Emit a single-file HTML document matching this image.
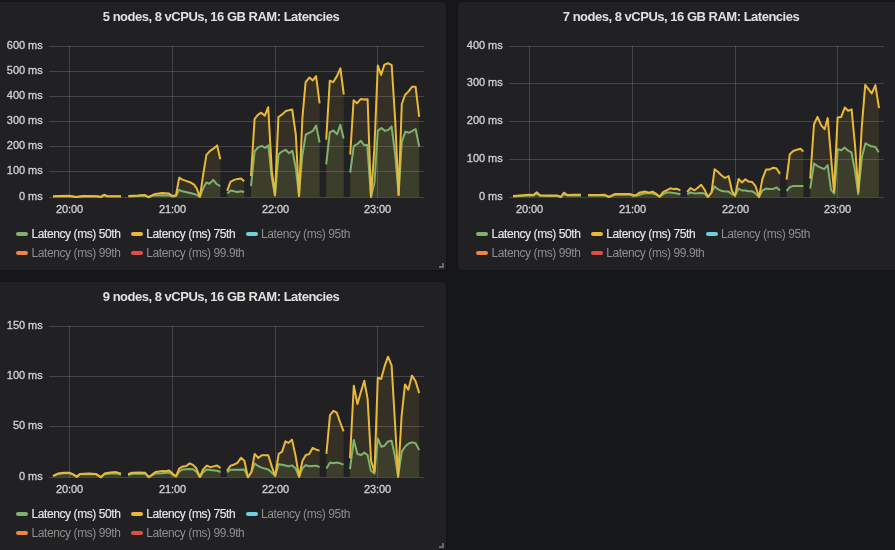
<!DOCTYPE html>
<html lang="en"><head><meta charset="utf-8"><title>Latencies dashboard</title>
<style>
html,body{margin:0;padding:0;background:#161719;}
body{width:895px;height:550px;overflow:hidden;position:relative;font-family:"Liberation Sans",Arial,sans-serif;color:#d8d9da;}
.panel{position:absolute;width:448px;height:268px;background:#212124;border-radius:2.5px;box-shadow:0 0 0 1px #131314;overflow:hidden;}
.panel svg{position:absolute;left:0;top:0;}
.title{position:absolute;left:0;top:5.5px;width:446px;text-align:center;font-size:13px;line-height:18px;font-weight:bold;color:#e0e0e1;letter-spacing:-0.49px;white-space:nowrap;}
.yl{position:absolute;left:0;width:44.6px;text-align:right;font-size:11px;line-height:12px;color:#d0d1d2;white-space:nowrap;-webkit-text-stroke:0.3px #d0d1d2;letter-spacing:-0.05px;}
.xl{position:absolute;width:60px;text-align:center;font-size:11px;line-height:12px;top:201px;color:#d0d1d2;white-space:nowrap;-webkit-text-stroke:0.3px #d0d1d2;letter-spacing:-0.1px;}
.lg{position:absolute;font-size:12px;line-height:14px;white-space:nowrap;color:#e6e6e7;letter-spacing:-0.42px;-webkit-text-stroke:0.15px #e6e6e7;}
.lg.off{color:#8e8e8e;-webkit-text-stroke:0;}
.ic{position:absolute;width:12px;height:4px;border-radius:2px;}
.handle{position:absolute;left:441px;top:261px;width:3px;height:3px;border-right:2px solid #6a6a6a;border-bottom:2px solid #6a6a6a;}
</style></head><body>

<div class="panel" style="left:-2px;top:2px">
<svg width="448" height="268" viewBox="0 0 448 268">
<path d="M51 44.5 H426 M51 69.5 H426 M51 94.5 H426 M51 119.5 H426 M51 144.5 H426 M51 169.5 H426 M51 195.5 H426" stroke="#fff" stroke-opacity="0.16" stroke-width="1" fill="none"/>
<path d="M71.5 44 V196 M174.5 44 V196 M277.5 44 V196 M379.5 44 V196" stroke="#fff" stroke-opacity="0.16" stroke-width="1" fill="none"/>
<path d="M55 194.6 L62 194.4 L71 194.2 L78 195 L85 194.4 L99 194.6 L103 195 L106 193.4 L109 194.4 L123 194.6 L123 195 L55 195 Z M130.4 194.4 L147 193.6 L150.4 195.2 L156 193.4 L164 193.2 L171 193.4 L174.5 194.6 L178 194 L181.2 187.8 L184.4 189.3 L188.8 190.3 L193.2 191.3 L196.1 192 L198.7 192.9 L201.9 194.8 L205.1 186.3 L208.4 180.5 L211.4 181.7 L215.3 177.9 L218.6 182 L222.3 184.2 L222.3 195 L130.4 195 Z M229.2 191.4 L232.7 188.5 L236.1 189.3 L239.7 190 L243 189.3 L246.2 190 L246.2 195 L229.2 195 Z M253 184.2 L256.6 149.3 L260.3 145.3 L263.6 143.9 L267.2 145.9 L270.4 143.4 L273.6 174.7 L277 193.6 L280.6 152.2 L284.3 149.3 L287.6 147.8 L291.1 151.2 L294.4 148.8 L297.8 166 L301 193.6 L304.2 154.4 L307.8 132.5 L311.2 130.8 L314.8 128.9 L318.1 123.5 L321.6 140.5 L321.6 195 L253 195 Z M328.2 162.4 L331.8 130.4 L335.4 128.5 L339.1 132.3 L342.3 122.7 L345.6 136.6 L345.6 195 L328.2 195 Z M352.2 170.6 L355.8 144.2 L359.4 142 L362.8 138.8 L366.3 143.4 L369.2 142.7 L373 195 L376.5 180.5 L379.8 128.9 L383.4 126 L387.1 128.9 L390.4 127.9 L393.6 124.5 L397.2 152.9 L400.6 192.9 L403.8 139.8 L407.4 129.6 L410.8 130.8 L414.3 128.9 L417.6 127 L421.2 144.6 L421.2 195 L352.2 195 Z" fill="#7eb26d" fill-opacity="0.1" stroke="none"/>
<path d="M55 194.3 L62 194 L71 193.8 L78 194.9 L85 194 L99 194.2 L103 194.9 L106 192.7 L109 194 L123 194.2 L123 195 L55 195 Z M130.4 194 L140 193.6 L147 193 L150.4 195.2 L156 192.3 L164 191.1 L171 191.6 L174.5 194 L178 193.2 L181.2 175.7 L184.4 177.6 L188.8 179.1 L193.2 180.8 L196.1 182.7 L198.7 186.3 L201.9 194.8 L205.1 173.3 L208.4 152.9 L212.1 148.8 L215.7 146.4 L219.1 143.4 L222.3 157.3 L222.3 195 L130.4 195 Z M229.2 188.8 L232.4 179.8 L236.1 177.9 L239.7 176.9 L243 176.5 L246.2 179.1 L246.2 195 L229.2 195 Z M253 174 L256.6 117 L259.8 112.9 L263.2 110.7 L266.8 113.6 L270.2 105.2 L273.8 168.9 L277 193 L280.4 115 L283.5 112.9 L287.9 109 L291.5 108.1 L294.2 107.5 L297.8 132.5 L301 194.3 L304.4 116 L307.6 80.2 L311.5 75.5 L314.8 78.4 L318.1 74.1 L321.6 101.3 L321.6 195 L253 195 Z M328.2 137.6 L331.8 78.7 L335.2 80.2 L338.8 74.4 L342.4 66.4 L345.8 92.5 L345.8 195 L328.2 195 Z M352.2 152.5 L355.6 98.3 L359 101.3 L362.8 96.9 L366 97.6 L369.6 97.2 L373 195 L376.4 146 L379.8 63.4 L383.1 72.9 L386.4 62.6 L390 61.2 L393.7 63.2 L397.3 120 L400.6 192.9 L403.8 102 L407 93 L410.3 89.6 L414 84.8 L417.6 84.8 L421.2 114.8 L421.2 195 L352.2 195 Z" fill="#eab839" fill-opacity="0.1" stroke="none"/>
<path d="M55 194.6 L62 194.4 L71 194.2 L78 195 L85 194.4 L99 194.6 L103 195 L106 193.4 L109 194.4 L123 194.6 M130.4 194.4 L147 193.6 L150.4 195.2 L156 193.4 L164 193.2 L171 193.4 L174.5 194.6 L178 194 L181.2 187.8 L184.4 189.3 L188.8 190.3 L193.2 191.3 L196.1 192 L198.7 192.9 L201.9 194.8 L205.1 186.3 L208.4 180.5 L211.4 181.7 L215.3 177.9 L218.6 182 L222.3 184.2 M229.2 191.4 L232.7 188.5 L236.1 189.3 L239.7 190 L243 189.3 L246.2 190 M253 184.2 L256.6 149.3 L260.3 145.3 L263.6 143.9 L267.2 145.9 L270.4 143.4 L273.6 174.7 L277 193.6 L280.6 152.2 L284.3 149.3 L287.6 147.8 L291.1 151.2 L294.4 148.8 L297.8 166 L301 193.6 L304.2 154.4 L307.8 132.5 L311.2 130.8 L314.8 128.9 L318.1 123.5 L321.6 140.5 M328.2 162.4 L331.8 130.4 L335.4 128.5 L339.1 132.3 L342.3 122.7 L345.6 136.6 M352.2 170.6 L355.8 144.2 L359.4 142 L362.8 138.8 L366.3 143.4 L369.2 142.7 L373 195 L376.5 180.5 L379.8 128.9 L383.4 126 L387.1 128.9 L390.4 127.9 L393.6 124.5 L397.2 152.9 L400.6 192.9 L403.8 139.8 L407.4 129.6 L410.8 130.8 L414.3 128.9 L417.6 127 L421.2 144.6" fill="none" stroke="#7eb26d" stroke-width="2" stroke-linejoin="round" stroke-linecap="butt"/>
<path d="M55 194.3 L62 194 L71 193.8 L78 194.9 L85 194 L99 194.2 L103 194.9 L106 192.7 L109 194 L123 194.2 M130.4 194 L140 193.6 L147 193 L150.4 195.2 L156 192.3 L164 191.1 L171 191.6 L174.5 194 L178 193.2 L181.2 175.7 L184.4 177.6 L188.8 179.1 L193.2 180.8 L196.1 182.7 L198.7 186.3 L201.9 194.8 L205.1 173.3 L208.4 152.9 L212.1 148.8 L215.7 146.4 L219.1 143.4 L222.3 157.3 M229.2 188.8 L232.4 179.8 L236.1 177.9 L239.7 176.9 L243 176.5 L246.2 179.1 M253 174 L256.6 117 L259.8 112.9 L263.2 110.7 L266.8 113.6 L270.2 105.2 L273.8 168.9 L277 193 L280.4 115 L283.5 112.9 L287.9 109 L291.5 108.1 L294.2 107.5 L297.8 132.5 L301 194.3 L304.4 116 L307.6 80.2 L311.5 75.5 L314.8 78.4 L318.1 74.1 L321.6 101.3 M328.2 137.6 L331.8 78.7 L335.2 80.2 L338.8 74.4 L342.4 66.4 L345.8 92.5 M352.2 152.5 L355.6 98.3 L359 101.3 L362.8 96.9 L366 97.6 L369.6 97.2 L373 195 L376.4 146 L379.8 63.4 L383.1 72.9 L386.4 62.6 L390 61.2 L393.7 63.2 L397.3 120 L400.6 192.9 L403.8 102 L407 93 L410.3 89.6 L414 84.8 L417.6 84.8 L421.2 114.8" fill="none" stroke="#eab839" stroke-width="2" stroke-linejoin="round" stroke-linecap="butt"/>
</svg>
<div class="title">5 nodes, 8 vCPUs, 16 GB RAM: Latencies</div>
<div class="yl" style="top:37.4px">600 ms</div>
<div class="yl" style="top:62.4px">500 ms</div>
<div class="yl" style="top:87.4px">400 ms</div>
<div class="yl" style="top:112.4px">300 ms</div>
<div class="yl" style="top:137.4px">200 ms</div>
<div class="yl" style="top:162.4px">100 ms</div>
<div class="yl" style="top:188.4px">0 ms</div>
<div class="xl" style="left:41.5px">20:00</div>
<div class="xl" style="left:144.5px">21:00</div>
<div class="xl" style="left:247.5px">22:00</div>
<div class="xl" style="left:349.5px">23:00</div>
<div class="ic" style="left:18px;top:230.3px;background:#7eb26d"></div>
<div class="lg" style="left:33.6px;top:224.8px">Latency (ms) 50th</div>
<div class="ic" style="left:132.7px;top:230.3px;background:#eab839"></div>
<div class="lg" style="left:148.3px;top:224.8px">Latency (ms) 75th</div>
<div class="ic" style="left:247.5px;top:230.3px;background:#6ed0e0"></div>
<div class="lg off" style="left:263.1px;top:224.8px">Latency (ms) 95th</div>
<div class="ic" style="left:18px;top:249.2px;background:#ef843c"></div>
<div class="lg off" style="left:33.6px;top:243.7px">Latency (ms) 99th</div>
<div class="ic" style="left:132.7px;top:249.2px;background:#e24d42"></div>
<div class="lg off" style="left:148.3px;top:243.7px">Latency (ms) 99.9th</div>
<div class="handle"></div>
</div>
<div class="panel" style="left:458px;top:2px">
<svg width="448" height="268" viewBox="0 0 448 268">
<path d="M51 44.5 H426 M51 81.5 H426 M51 119.5 H426 M51 157.5 H426 M51 195.5 H426" stroke="#fff" stroke-opacity="0.16" stroke-width="1" fill="none"/>
<path d="M71.5 44 V196 M174.5 44 V196 M277.5 44 V196 M379.5 44 V196" stroke="#fff" stroke-opacity="0.16" stroke-width="1" fill="none"/>
<path d="M55 194.5 L62 194 L71 193.4 L75.3 193.6 L78.7 191.5 L82 193.8 L92 194 L99.5 194 L102.9 195 L105.8 192 L109.5 193.6 L116 193.4 L123 193.4 L123 195 L55 195 Z M130.1 193.5 L147 193.3 L150.8 195 L157.1 192.8 L172 192.8 L175.5 193.8 L178 193.8 L181 193 L186.7 191.3 L194 191.3 L198 192.5 L201.8 194.8 L205.1 192.2 L209 190.5 L212 190.4 L219 191.5 L222.4 192.3 L222.4 195 L130.1 195 Z M229.2 192.2 L232.6 190.5 L236.5 191.4 L243.2 191.1 L246.6 191.6 L249.9 195 L253.5 190.5 L256.6 184.4 L259.9 187.2 L263.3 188.8 L267 189.6 L270.6 189.6 L273.9 192.2 L277.1 193.6 L280.6 186.6 L284 188.5 L287.3 188.5 L290.7 189.2 L294 189.2 L297.4 191.4 L301 195 L304.4 188.5 L308 186.6 L311.4 186.9 L315.3 186.9 L318.6 185.5 L322 188.5 L322 195 L229.2 195 Z M328.6 189 L331.8 185.2 L335.2 183.9 L345.4 183.9 L345.4 195 L328.6 195 Z M352.2 186.7 L356 161.6 L359.9 164.3 L366.2 167.2 L369.7 163.1 L373 187.8 L376.3 191.5 L379.8 147.1 L383.2 148.3 L386.5 145.6 L389.7 148.3 L393.4 150.3 L397 168.9 L400.2 192.2 L404 154.4 L407.5 141.3 L412.3 143.9 L417.4 144.9 L420.7 150.3 L420.7 195 L352.2 195 Z" fill="#7eb26d" fill-opacity="0.1" stroke="none"/>
<path d="M55 194 L62 193.4 L71 192.8 L75.3 193 L78.7 190.2 L82 193.3 L92 193.5 L99.5 193.6 L102.9 195 L105.8 190.7 L109.5 193 L116 192.8 L123 192.8 L123 195 L55 195 Z M130.1 193 L140 193 L147 192.8 L150.8 194.9 L157.1 191.9 L164 191.9 L172 191.9 L175.5 193.3 L178 193.2 L181.1 190.8 L186.7 189.5 L191.2 190.7 L194.5 189.6 L197.9 191.6 L201.8 194.7 L205.1 190.2 L209 188.2 L212.4 186.3 L215.7 187.1 L219.1 186.8 L222.4 188.4 L222.4 195 L130.1 195 Z M229.2 190 L232.6 186 L236.5 188.3 L239.8 185.8 L243.2 182.7 L246.6 187.7 L249.9 195 L253.5 190.5 L256.6 167.3 L259.9 169.8 L263.3 173.2 L267 176 L270.6 174 L273.9 188.8 L277.1 193.6 L280.6 176.9 L284 180.5 L287.3 177.3 L290.7 179.6 L294 179.9 L297.4 183.8 L301 195 L304.4 177.1 L308 167.6 L311.4 167.6 L315.3 165.7 L318.6 166.5 L322 171.9 L322 195 L229.2 195 Z M328.6 177.6 L331.8 152.2 L335.2 149 L338.8 147.8 L342.5 146.8 L345.4 149.6 L345.4 195 L328.6 195 Z M352.2 176.6 L356 122.3 L359.5 114.9 L363.3 123.4 L366.6 127.2 L369.7 116.1 L373 155 L376 189.3 L379.6 115.6 L383.2 114.9 L386.8 105.5 L390.2 108.8 L393.6 107.3 L397 143 L400.3 190 L403.7 126 L407.2 82.8 L410.5 87.2 L413.7 91.5 L417.4 83.1 L421 106.2 L421 195 L352.2 195 Z" fill="#eab839" fill-opacity="0.1" stroke="none"/>
<path d="M55 194.5 L62 194 L71 193.4 L75.3 193.6 L78.7 191.5 L82 193.8 L92 194 L99.5 194 L102.9 195 L105.8 192 L109.5 193.6 L116 193.4 L123 193.4 M130.1 193.5 L147 193.3 L150.8 195 L157.1 192.8 L172 192.8 L175.5 193.8 L178 193.8 L181 193 L186.7 191.3 L194 191.3 L198 192.5 L201.8 194.8 L205.1 192.2 L209 190.5 L212 190.4 L219 191.5 L222.4 192.3 M229.2 192.2 L232.6 190.5 L236.5 191.4 L243.2 191.1 L246.6 191.6 L249.9 195 L253.5 190.5 L256.6 184.4 L259.9 187.2 L263.3 188.8 L267 189.6 L270.6 189.6 L273.9 192.2 L277.1 193.6 L280.6 186.6 L284 188.5 L287.3 188.5 L290.7 189.2 L294 189.2 L297.4 191.4 L301 195 L304.4 188.5 L308 186.6 L311.4 186.9 L315.3 186.9 L318.6 185.5 L322 188.5 M328.6 189 L331.8 185.2 L335.2 183.9 L345.4 183.9 M352.2 186.7 L356 161.6 L359.9 164.3 L366.2 167.2 L369.7 163.1 L373 187.8 L376.3 191.5 L379.8 147.1 L383.2 148.3 L386.5 145.6 L389.7 148.3 L393.4 150.3 L397 168.9 L400.2 192.2 L404 154.4 L407.5 141.3 L412.3 143.9 L417.4 144.9 L420.7 150.3" fill="none" stroke="#7eb26d" stroke-width="2" stroke-linejoin="round" stroke-linecap="butt"/>
<path d="M55 194 L62 193.4 L71 192.8 L75.3 193 L78.7 190.2 L82 193.3 L92 193.5 L99.5 193.6 L102.9 195 L105.8 190.7 L109.5 193 L116 192.8 L123 192.8 M130.1 193 L140 193 L147 192.8 L150.8 194.9 L157.1 191.9 L164 191.9 L172 191.9 L175.5 193.3 L178 193.2 L181.1 190.8 L186.7 189.5 L191.2 190.7 L194.5 189.6 L197.9 191.6 L201.8 194.7 L205.1 190.2 L209 188.2 L212.4 186.3 L215.7 187.1 L219.1 186.8 L222.4 188.4 M229.2 190 L232.6 186 L236.5 188.3 L239.8 185.8 L243.2 182.7 L246.6 187.7 L249.9 195 L253.5 190.5 L256.6 167.3 L259.9 169.8 L263.3 173.2 L267 176 L270.6 174 L273.9 188.8 L277.1 193.6 L280.6 176.9 L284 180.5 L287.3 177.3 L290.7 179.6 L294 179.9 L297.4 183.8 L301 195 L304.4 177.1 L308 167.6 L311.4 167.6 L315.3 165.7 L318.6 166.5 L322 171.9 M328.6 177.6 L331.8 152.2 L335.2 149 L338.8 147.8 L342.5 146.8 L345.4 149.6 M352.2 176.6 L356 122.3 L359.5 114.9 L363.3 123.4 L366.6 127.2 L369.7 116.1 L373 155 L376 189.3 L379.6 115.6 L383.2 114.9 L386.8 105.5 L390.2 108.8 L393.6 107.3 L397 143 L400.3 190 L403.7 126 L407.2 82.8 L410.5 87.2 L413.7 91.5 L417.4 83.1 L421 106.2" fill="none" stroke="#eab839" stroke-width="2" stroke-linejoin="round" stroke-linecap="butt"/>
</svg>
<div class="title">7 nodes, 8 vCPUs, 16 GB RAM: Latencies</div>
<div class="yl" style="top:37.4px">400 ms</div>
<div class="yl" style="top:74.4px">300 ms</div>
<div class="yl" style="top:112.4px">200 ms</div>
<div class="yl" style="top:150.4px">100 ms</div>
<div class="yl" style="top:188.4px">0 ms</div>
<div class="xl" style="left:41.5px">20:00</div>
<div class="xl" style="left:144.5px">21:00</div>
<div class="xl" style="left:247.5px">22:00</div>
<div class="xl" style="left:349.5px">23:00</div>
<div class="ic" style="left:18px;top:230.3px;background:#7eb26d"></div>
<div class="lg" style="left:33.6px;top:224.8px">Latency (ms) 50th</div>
<div class="ic" style="left:132.7px;top:230.3px;background:#eab839"></div>
<div class="lg" style="left:148.3px;top:224.8px">Latency (ms) 75th</div>
<div class="ic" style="left:247.5px;top:230.3px;background:#6ed0e0"></div>
<div class="lg off" style="left:263.1px;top:224.8px">Latency (ms) 95th</div>
<div class="ic" style="left:18px;top:249.2px;background:#ef843c"></div>
<div class="lg off" style="left:33.6px;top:243.7px">Latency (ms) 99th</div>
<div class="ic" style="left:132.7px;top:249.2px;background:#e24d42"></div>
<div class="lg off" style="left:148.3px;top:243.7px">Latency (ms) 99.9th</div>
</div>
<div class="panel" style="left:-2px;top:282px">
<svg width="448" height="268" viewBox="0 0 448 268">
<path d="M51 44.5 H426 M51 94.5 H426 M51 144.5 H426 M51 195.5 H426" stroke="#fff" stroke-opacity="0.16" stroke-width="1" fill="none"/>
<path d="M71.5 44 V196 M174.5 44 V196 M277.5 44 V196 M379.5 44 V196" stroke="#fff" stroke-opacity="0.16" stroke-width="1" fill="none"/>
<path d="M55 194.1 L60 192 L65.9 191.2 L71.7 191.2 L75.3 192.6 L78.7 195 L81.9 192.2 L90.6 191.9 L97.8 192.2 L102.9 195.2 L106.5 192.2 L112.4 191.5 L118.2 191.3 L123 192.6 L123 195 L55 195 Z M130.1 193 L134.1 191.8 L147.2 191.8 L150.8 195.2 L157.4 191.5 L164.6 191.2 L171.2 190.5 L174.5 192.7 L178 194.4 L181.2 189.4 L184.9 187.4 L191.6 186.9 L195 187.2 L198.3 189.6 L201.9 195 L205 190.5 L208.7 187.4 L212.3 188 L219.2 188.8 L222.6 190 L222.6 195 L130.1 195 Z M229 190.3 L232.6 187.7 L239.3 187.7 L246.4 187.4 L249.9 195.2 L253.3 190.3 L256.7 181.5 L260.4 184.2 L263.7 185.6 L270.3 187.5 L273.9 190.7 L277.2 193.9 L280.7 182.3 L284.1 182.7 L290.6 184.2 L294 183.4 L297.6 186.3 L301.1 194.8 L304.4 186.3 L307.8 183.1 L311.3 184.2 L318.3 183.7 L321.6 185.2 L321.6 195 L229 195 Z M328.4 186.6 L332.1 180.5 L335.4 181.3 L338.6 180.5 L342.2 181.3 L345.6 182.7 L345.6 195 L328.4 195 Z M352 187.1 L355.8 158 L359.4 172 L363.1 173 L366.4 170.6 L369.6 173 L372.8 188.5 L376.4 191.4 L379.8 156.5 L383.4 164.8 L386.3 163.8 L390 159.4 L393.6 158.7 L396.9 174 L400.1 194.3 L403.8 169.6 L407.4 164.2 L411 161.3 L414.4 160.4 L417.6 161.3 L421.2 168.1 L421.2 195 L352 195 Z" fill="#7eb26d" fill-opacity="0.1" stroke="none"/>
<path d="M55 193.8 L60 191.6 L65.9 190.8 L71.7 190.8 L75.3 192.3 L78.7 194.8 L81.9 191.9 L90.6 191.6 L97.8 191.9 L102.9 195.2 L106.5 191.6 L112.4 190.4 L118.2 190.1 L123 191.6 L123 195 L55 195 Z M130.1 192.3 L134.1 190.8 L141.4 190.6 L147.2 190.8 L150.8 195.2 L157.4 190.1 L164.6 188.9 L167.6 189.2 L171.2 188.5 L174.5 191.6 L178 194.4 L181.2 186.6 L184.9 184.4 L188.3 184 L191.6 181.4 L195 182.9 L198.3 186.3 L201.9 195 L205 187.7 L208.7 183.6 L212.3 185.2 L215.6 184.4 L219.2 183.6 L222.6 186 L222.6 195 L130.1 195 Z M229 188.8 L232.6 183.6 L235.7 182.7 L239.3 181 L243 175.8 L246.4 178.8 L249.9 195.2 L253.3 190.3 L256.7 171.9 L260.3 176 L263.7 173.3 L267 173.3 L270.3 173.3 L273.9 184.9 L277.2 193.9 L280.7 171.8 L284.1 169.6 L287.4 159.4 L290.6 160.9 L294 157.6 L297.6 174 L301.1 194.8 L304.4 179.1 L307.8 173 L311.3 172.1 L314.6 166 L318.3 167.7 L321.6 168.6 L321.6 195 L229 195 Z M328.4 171.8 L332 133.1 L335.4 128.8 L338.8 130.6 L342.2 140.5 L345.6 149.3 L345.6 195 L328.4 195 Z M352 176.2 L355.8 103.8 L359.4 122 L362.8 110.3 L366.3 98.7 L369.6 116.9 L373.1 179 L376.5 189.8 L379.8 95.8 L383.1 97 L386.6 84.2 L390 74.7 L393.6 83.4 L396.9 139 L400.1 195 L403.6 134 L407 102.4 L410.3 107.7 L414 93.6 L417.6 99.2 L421.2 111.1 L421.2 195 L352 195 Z" fill="#eab839" fill-opacity="0.1" stroke="none"/>
<path d="M55 194.1 L60 192 L65.9 191.2 L71.7 191.2 L75.3 192.6 L78.7 195 L81.9 192.2 L90.6 191.9 L97.8 192.2 L102.9 195.2 L106.5 192.2 L112.4 191.5 L118.2 191.3 L123 192.6 M130.1 193 L134.1 191.8 L147.2 191.8 L150.8 195.2 L157.4 191.5 L164.6 191.2 L171.2 190.5 L174.5 192.7 L178 194.4 L181.2 189.4 L184.9 187.4 L191.6 186.9 L195 187.2 L198.3 189.6 L201.9 195 L205 190.5 L208.7 187.4 L212.3 188 L219.2 188.8 L222.6 190 M229 190.3 L232.6 187.7 L239.3 187.7 L246.4 187.4 L249.9 195.2 L253.3 190.3 L256.7 181.5 L260.4 184.2 L263.7 185.6 L270.3 187.5 L273.9 190.7 L277.2 193.9 L280.7 182.3 L284.1 182.7 L290.6 184.2 L294 183.4 L297.6 186.3 L301.1 194.8 L304.4 186.3 L307.8 183.1 L311.3 184.2 L318.3 183.7 L321.6 185.2 M328.4 186.6 L332.1 180.5 L335.4 181.3 L338.6 180.5 L342.2 181.3 L345.6 182.7 M352 187.1 L355.8 158 L359.4 172 L363.1 173 L366.4 170.6 L369.6 173 L372.8 188.5 L376.4 191.4 L379.8 156.5 L383.4 164.8 L386.3 163.8 L390 159.4 L393.6 158.7 L396.9 174 L400.1 194.3 L403.8 169.6 L407.4 164.2 L411 161.3 L414.4 160.4 L417.6 161.3 L421.2 168.1" fill="none" stroke="#7eb26d" stroke-width="2" stroke-linejoin="round" stroke-linecap="butt"/>
<path d="M55 193.8 L60 191.6 L65.9 190.8 L71.7 190.8 L75.3 192.3 L78.7 194.8 L81.9 191.9 L90.6 191.6 L97.8 191.9 L102.9 195.2 L106.5 191.6 L112.4 190.4 L118.2 190.1 L123 191.6 M130.1 192.3 L134.1 190.8 L141.4 190.6 L147.2 190.8 L150.8 195.2 L157.4 190.1 L164.6 188.9 L167.6 189.2 L171.2 188.5 L174.5 191.6 L178 194.4 L181.2 186.6 L184.9 184.4 L188.3 184 L191.6 181.4 L195 182.9 L198.3 186.3 L201.9 195 L205 187.7 L208.7 183.6 L212.3 185.2 L215.6 184.4 L219.2 183.6 L222.6 186 M229 188.8 L232.6 183.6 L235.7 182.7 L239.3 181 L243 175.8 L246.4 178.8 L249.9 195.2 L253.3 190.3 L256.7 171.9 L260.3 176 L263.7 173.3 L267 173.3 L270.3 173.3 L273.9 184.9 L277.2 193.9 L280.7 171.8 L284.1 169.6 L287.4 159.4 L290.6 160.9 L294 157.6 L297.6 174 L301.1 194.8 L304.4 179.1 L307.8 173 L311.3 172.1 L314.6 166 L318.3 167.7 L321.6 168.6 M328.4 171.8 L332 133.1 L335.4 128.8 L338.8 130.6 L342.2 140.5 L345.6 149.3 M352 176.2 L355.8 103.8 L359.4 122 L362.8 110.3 L366.3 98.7 L369.6 116.9 L373.1 179 L376.5 189.8 L379.8 95.8 L383.1 97 L386.6 84.2 L390 74.7 L393.6 83.4 L396.9 139 L400.1 195 L403.6 134 L407 102.4 L410.3 107.7 L414 93.6 L417.6 99.2 L421.2 111.1" fill="none" stroke="#eab839" stroke-width="2" stroke-linejoin="round" stroke-linecap="butt"/>
</svg>
<div class="title">9 nodes, 8 vCPUs, 16 GB RAM: Latencies</div>
<div class="yl" style="top:37.4px">150 ms</div>
<div class="yl" style="top:87.4px">100 ms</div>
<div class="yl" style="top:137.4px">50 ms</div>
<div class="yl" style="top:188.4px">0 ms</div>
<div class="xl" style="left:41.5px">20:00</div>
<div class="xl" style="left:144.5px">21:00</div>
<div class="xl" style="left:247.5px">22:00</div>
<div class="xl" style="left:349.5px">23:00</div>
<div class="ic" style="left:18px;top:230.3px;background:#7eb26d"></div>
<div class="lg" style="left:33.6px;top:224.8px">Latency (ms) 50th</div>
<div class="ic" style="left:132.7px;top:230.3px;background:#eab839"></div>
<div class="lg" style="left:148.3px;top:224.8px">Latency (ms) 75th</div>
<div class="ic" style="left:247.5px;top:230.3px;background:#6ed0e0"></div>
<div class="lg off" style="left:263.1px;top:224.8px">Latency (ms) 95th</div>
<div class="ic" style="left:18px;top:249.2px;background:#ef843c"></div>
<div class="lg off" style="left:33.6px;top:243.7px">Latency (ms) 99th</div>
<div class="ic" style="left:132.7px;top:249.2px;background:#e24d42"></div>
<div class="lg off" style="left:148.3px;top:243.7px">Latency (ms) 99.9th</div>
<div class="handle"></div>
</div>
</body></html>
